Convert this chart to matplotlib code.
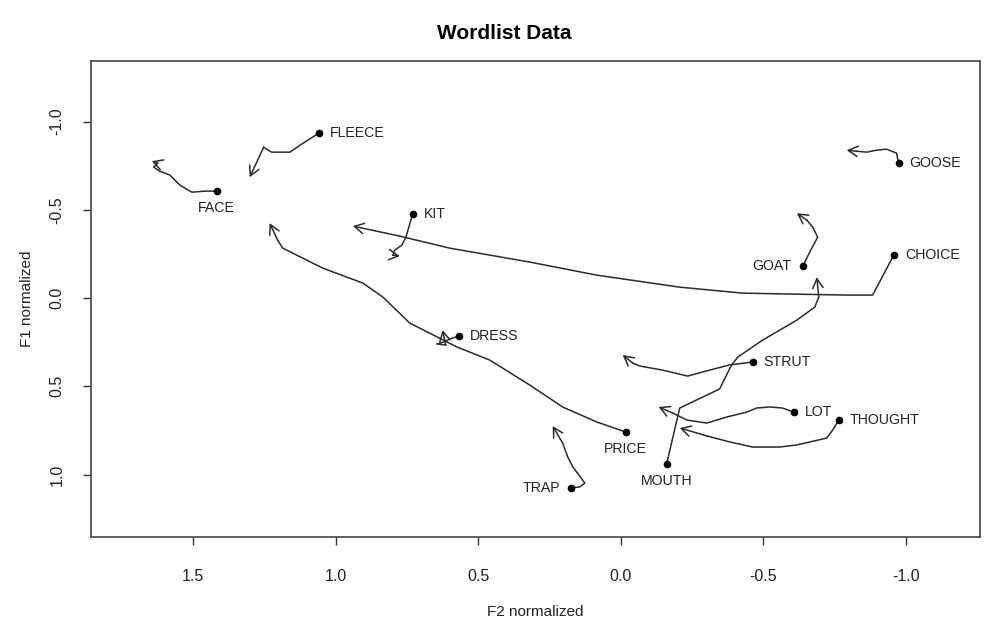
import matplotlib
matplotlib.use("Agg")
import matplotlib.pyplot as plt

plt.rcParams["font.family"] = ["Liberation Sans", "DejaVu Sans"]

# formant trajectories (F2, F1), first point is the vowel onset
fleece_f2 = [1.060, 1.126, 1.161, 1.225, 1.253, 1.302]
fleece_f1 = [-0.934, -0.866, -0.827, -0.827, -0.855, -0.685]

face_f2 = [1.418, 1.460, 1.505, 1.547, 1.582, 1.607, 1.618, 1.639, 1.625, 1.646]
face_f1 = [-0.606, -0.606, -0.600, -0.640, -0.697, -0.713, -0.719, -0.742, -0.764, -0.776]

kit_f2 = [0.730, 0.754, 0.768, 0.793, 0.800, 0.775]
kit_f1 = [-0.476, -0.345, -0.300, -0.272, -0.243, -0.238]

dress_f2 = [0.568, 0.600, 0.621, 0.646, 0.614, 0.625]
dress_f1 = [0.215, 0.232, 0.249, 0.260, 0.266, 0.181]

trap_f2 = [0.175, 0.144, 0.126, 0.168, 0.186, 0.204, 0.239]
trap_f1 = [1.076, 1.070, 1.048, 0.957, 0.900, 0.821, 0.725]

price_f2 = [-0.018, 0.084, 0.204, 0.319, 0.460, 0.575, 0.740, 0.835, 0.905, 1.046,
            1.186, 1.204, 1.232]
price_f1 = [0.759, 0.702, 0.617, 0.493, 0.351, 0.277, 0.142, -0.006, -0.085, -0.170,
            -0.283, -0.328, -0.425]

mouth_f2 = [-0.161, -0.207, -0.347, -0.389, -0.411, -0.498, -0.618, -0.681, -0.695, -0.688]
mouth_f1 = [0.940, 0.623, 0.515, 0.379, 0.334, 0.238, 0.125, 0.051, -0.006, -0.119]

strut_f2 = [-0.463, -0.382, -0.312, -0.235, -0.147, -0.067, -0.042, -0.007]
strut_f1 = [0.362, 0.379, 0.408, 0.442, 0.408, 0.385, 0.368, 0.323]

lot_f2 = [-0.607, -0.568, -0.523, -0.477, -0.442, -0.372, -0.302, -0.232, -0.182, -0.133]
lot_f1 = [0.646, 0.623, 0.617, 0.623, 0.646, 0.674, 0.708, 0.691, 0.651, 0.617]

thought_f2 = [-0.765, -0.744, -0.723, -0.618, -0.558, -0.463, -0.382, -0.302, -0.207]
thought_f1 = [0.691, 0.747, 0.793, 0.832, 0.844, 0.844, 0.815, 0.781, 0.736]

goat_f2 = [-0.639, -0.663, -0.691, -0.674, -0.653, -0.618]
goat_f1 = [-0.181, -0.260, -0.345, -0.402, -0.442, -0.481]

choice_f2 = [-0.958, -0.884, -0.796, -0.593, -0.428, -0.207, 0.084, 0.319, 0.600,
             0.775, 0.940]
choice_f1 = [-0.243, -0.017, -0.017, -0.023, -0.028, -0.062, -0.130, -0.204, -0.283,
             -0.351, -0.408]

goose_f2 = [-0.975, -0.968, -0.933, -0.898, -0.863, -0.828, -0.793]
goose_f1 = [-0.764, -0.821, -0.844, -0.838, -0.827, -0.832, -0.838]

# label placement: r = right, l = left, b = below
vowels = [
    ("FLEECE", fleece_f2, fleece_f1, "r"),
    ("FACE", face_f2, face_f1, "b"),
    ("KIT", kit_f2, kit_f1, "r"),
    ("DRESS", dress_f2, dress_f1, "r"),
    ("TRAP", trap_f2, trap_f1, "l"),
    ("PRICE", price_f2, price_f1, "b"),
    ("MOUTH", mouth_f2, mouth_f1, "b"),
    ("STRUT", strut_f2, strut_f1, "r"),
    ("LOT", lot_f2, lot_f1, "r"),
    ("THOUGHT", thought_f2, thought_f1, "r"),
    ("GOAT", goat_f2, goat_f1, "l"),
    ("CHOICE", choice_f2, choice_f1, "r"),
    ("GOOSE", goose_f2, goose_f1, "r"),
]

x_ticks = [1.5, 1.0, 0.5, 0.0, -0.5, -1.0]
y_ticks = [-1.0, -0.5, 0.0, 0.5, 1.0]

line_col = "#2b2b2b"

fig = plt.figure(figsize=(10.08, 6.25), dpi=100)
ax = fig.add_axes([0.090, 0.141, 0.882, 0.761])

for name, f2, f1, side in vowels:
    ax.plot(f2[:-1], f1[:-1], color=line_col, lw=1.1, solid_joinstyle="round")
    ax.annotate("", xy=(f2[-1], f1[-1]), xytext=(f2[-2], f1[-2]),
                arrowprops=dict(arrowstyle="->,head_length=0.4,head_width=0.22",
                                mutation_scale=17, lw=1.1, color=line_col,
                                shrinkA=0, shrinkB=0))
    ax.plot(f2[0], f1[0], "o", color="black", ms=4.5)
    if side == "r":
        off, ha, va = (8, 0), "left", "center"
    elif side == "l":
        off, ha, va = (-8, 0), "right", "center"
    else:
        off, ha, va = (0, -12), "center", "center"
    ax.annotate(name, (f2[0], f1[0]), xytext=off, textcoords="offset points",
                ha=ha, va=va, fontsize=10.2, color="#222222")

ax.set_xlim(1.860, -1.260)
ax.set_ylim(1.353, -1.342)
ax.set_xticks(x_ticks)
ax.set_xticklabels([f"{v:.1f}" for v in x_ticks])
ax.set_yticks(y_ticks)
ax.set_yticklabels([f"{v:.1f}" for v in y_ticks], rotation=90, va="center")
ax.tick_params(direction="out", length=6, width=1, colors="#333333",
               labelsize=11.5, labelcolor="#222222")
ax.tick_params(axis="x", pad=17)
ax.tick_params(axis="y", pad=13)
for s in ax.spines.values():
    s.set_color("#444444")
    s.set_linewidth(1.2)

ax.set_xlabel("F2 normalized", fontsize=11, labelpad=15, color="#222222")
ax.set_ylabel("F1 normalized", fontsize=11, labelpad=11, color="#222222")
fig.suptitle("Wordlist Data", fontsize=15, fontweight="bold", y=0.962)

plt.savefig("out.png", dpi=100)
plt.close()
